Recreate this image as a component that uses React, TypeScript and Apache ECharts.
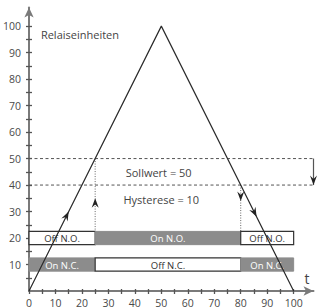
import React, { useEffect, useRef } from "react";
import * as echarts from "echarts";

const xTickValues = [0, 5, 10, 15, 20, 25, 30, 35, 40, 45, 50, 55, 60, 65, 70, 75, 80, 85, 90, 95, 100];
const xLabelValues = [0, 10, 20, 30, 40, 50, 60, 70, 80, 90, 100];
const yTickValues = [5, 10, 15, 20, 25, 30, 35, 40, 45, 50, 55, 60, 65, 70, 75, 80, 85, 90, 95, 100];
const yLabelValues = [10, 20, 30, 40, 50, 60, 70, 80, 90, 100];

const triangleX = [0, 50, 100];
const triangleY = [0, 100, 0];

const setpoint = 50;
const hysteresis = 10;
const lowerThreshold = setpoint - hysteresis;
const switchOnX = 25;
const switchOffX = 80;

const noRow = 20;
const noStarts = [0, 25, 80];
const noEnds = [25, 80, 100];
const noLabels = ["Off N.O.", "On N.O.", "Off N.O."];
const noActive = [false, true, false];

const ncRow = 10;
const ncStarts = [0, 25, 80];
const ncEnds = [25, 80, 100];
const ncLabels = ["On N.C.", "Off N.C.", "On N.C."];
const ncActive = [true, false, true];

const arrowX = [15, 86, 25, 80, 107.5];
const arrowY = [30, 28, 35, 34, 40];
const arrowDx = [1, 1, 0, 0, 0];
const arrowDy = [2, -2, 1, -1, -1];

const noteTexts = ["Relaiseinheiten", `Sollwert = ${setpoint}`, `Hysterese = ${hysteresis}`, "t"];
const noteX = [4.5, 49, 50, 105];
const noteY = [97, 44.6, 34.6, 4.6];

const X_MAX = 107.5;
const Y_MAX = 107;

const FONT = "Open Sans";

export default function App() {
  const ref = useRef<HTMLDivElement>(null);

  useEffect(() => {
    if (!ref.current) return;
    const chart = echarts.init(ref.current, null, { renderer: "svg" });

    const barStarts = [...noStarts, ...ncStarts];
    const barEnds = [...noEnds, ...ncEnds];
    const barRows = [...noStarts.map(() => noRow), ...ncStarts.map(() => ncRow)];
    const barLabels = [...noLabels, ...ncLabels];
    const barActive = [...noActive, ...ncActive];

    const axisColor = "#7a7a7a";
    const labelColor = "#4a4a4a";

    const option: any = {
      animation: false,
      grid: { left: 28, right: 3.5, top: 7.6, bottom: 15, containLabel: false },
      xAxis: [
        {
          type: "value",
          min: 0,
          max: X_MAX,
          position: "bottom",
          splitLine: { show: false },
          axisLine: {
            show: true,
            lineStyle: { color: axisColor, width: 2 },
            symbol: ["none", "arrow"],
            symbolSize: [7, 10],
            symbolOffset: [0, 0],
          },
          axisTick: {
            show: true,
            customValues: xTickValues,
            length: 3,
            lineStyle: { color: "#555", width: 1.3 },
          },
          axisLabel: {
            customValues: xLabelValues,
            color: labelColor,
            fontSize: 10.5,
            fontFamily: FONT,
            margin: 6,
          },
        },
        {
          type: "value",
          min: 0,
          max: X_MAX,
          position: "bottom",
          splitLine: { show: false },
          axisLine: { show: false },
          axisTick: {
            show: true,
            inside: true,
            customValues: xTickValues,
            length: 2,
            lineStyle: { color: "#555", width: 1.3 },
          },
          axisLabel: { show: false },
        },
      ],
      yAxis: [
        {
          type: "value",
          min: 0,
          max: Y_MAX,
          position: "left",
          splitLine: { show: false },
          axisLine: {
            show: true,
            lineStyle: { color: axisColor, width: 2 },
            symbol: ["none", "arrow"],
            symbolSize: [7, 10],
          },
          axisTick: {
            show: true,
            customValues: yTickValues,
            length: 3,
            lineStyle: { color: "#555", width: 1.3 },
          },
          axisLabel: {
            customValues: yLabelValues,
            color: labelColor,
            fontSize: 10.5,
            fontFamily: FONT,
            margin: 8,
          },
        },
        {
          type: "value",
          min: 0,
          max: Y_MAX,
          position: "left",
          splitLine: { show: false },
          axisLine: { show: false },
          axisTick: {
            show: true,
            inside: true,
            customValues: yTickValues,
            length: 3,
            lineStyle: { color: "#555", width: 1.3 },
          },
          axisLabel: { show: false },
        },
      ],
      series: [
        {
          type: "line",
          data: [[0, setpoint], [X_MAX, setpoint]],
          symbol: "none",
          clip: false,
          lineStyle: { color: "#555", width: 1, type: [3, 2.5] },
          z: 2,
        },
        {
          type: "line",
          data: [[0, lowerThreshold], [X_MAX, lowerThreshold]],
          symbol: "none",
          clip: false,
          lineStyle: { color: "#555", width: 1, type: [3, 2.5] },
          z: 2,
        },
        {
          type: "line",
          data: [[switchOnX, setpoint], [switchOnX, noRow + 2.5]],
          symbol: "none",
          lineStyle: { color: "#666", width: 1, type: [1, 1.5] },
          z: 2,
        },
        {
          type: "line",
          data: [[switchOffX, lowerThreshold], [switchOffX, noRow + 2.5]],
          symbol: "none",
          lineStyle: { color: "#666", width: 1, type: [1, 1.5] },
          z: 2,
        },
        {
          type: "line",
          data: [[X_MAX, setpoint], [X_MAX, lowerThreshold]],
          symbol: "none",
          clip: false,
          lineStyle: { color: "#555", width: 1.2 },
          z: 3,
        },
        {
          type: "custom",
          clip: false,
          z: 4,
          data: barStarts.map((s, i) => [s, barEnds[i], barRows[i]]),
          renderItem: (params: any, api: any) => {
            const i = params.dataIndex;
            const x0 = api.value(0);
            const x1 = api.value(1);
            const y = api.value(2);
            const p0 = api.coord([x0, y + 2.5]);
            const p1 = api.coord([x1, y - 2.5]);
            const active = barActive[i];
            return {
              type: "group",
              children: [
                {
                  type: "rect",
                  shape: { x: p0[0], y: p0[1], width: p1[0] - p0[0], height: p1[1] - p0[1] },
                  style: active
                    ? { fill: "#8c8c8c", stroke: "#8c8c8c", lineWidth: 1 }
                    : { fill: "#ffffff", stroke: "#333333", lineWidth: 1.2 },
                },
                {
                  type: "text",
                  style: {
                    text: barLabels[i],
                    x: (p0[0] + p1[0]) / 2,
                    y: (p0[1] + p1[1]) / 2 + 0.5,
                    align: "center",
                    verticalAlign: "middle",
                    fill: active ? "#ffffff" : "#333333",
                    font: `9.5px "${FONT}"`,
                  },
                },
              ],
            };
          },
        },
        {
          type: "line",
          data: triangleX.map((x, i) => [x, triangleY[i]]),
          symbol: "none",
          lineStyle: { color: "#2a2a2a", width: 1.2 },
          z: 5,
        },
        {
          type: "custom",
          clip: false,
          z: 6,
          data: arrowX.map((x, i) => [x, arrowY[i], arrowDx[i], arrowDy[i]]),
          renderItem: (params: any, api: any) => {
            const x = api.value(0);
            const y = api.value(1);
            const dx = api.value(2);
            const dy = api.value(3);
            const p = api.coord([x, y]);
            const q = api.coord([x + dx, y + dy]);
            let vx = q[0] - p[0];
            let vy = q[1] - p[1];
            const len = Math.sqrt(vx * vx + vy * vy) || 1;
            vx /= len;
            vy /= len;
            const nx = -vy;
            const ny = vx;
            const L = 9.5;
            const W = 3.5;
            const pts = [
              [p[0], p[1]],
              [p[0] - vx * L + nx * W, p[1] - vy * L + ny * W],
              [p[0] - vx * L * 0.65, p[1] - vy * L * 0.65],
              [p[0] - vx * L - nx * W, p[1] - vy * L - ny * W],
            ];
            return {
              type: "polygon",
              shape: { points: pts },
              style: { fill: "#222222" },
            };
          },
        },
        {
          type: "custom",
          clip: false,
          z: 7,
          data: noteX.map((x, i) => [x, noteY[i]]),
          renderItem: (params: any, api: any) => {
            const i = params.dataIndex;
            const p = api.coord([api.value(0), api.value(1)]);
            const isT = noteTexts[i] === "t";
            return {
              type: "text",
              style: {
                text: noteTexts[i],
                x: p[0],
                y: p[1],
                align: i === 0 ? "left" : "center",
                verticalAlign: "middle",
                fill: "#444444",
                font: isT ? `14px "${FONT}"` : `11px "${FONT}"`,
              },
            };
          },
        },
      ],
    };

    chart.setOption(option);
    return () => chart.dispose();
  }, []);

  return (
    <div
      ref={ref}
      style={{ position: "fixed", left: 0, top: 0, width: 317, height: 308, background: "#fff" }}
    />
  );
}
